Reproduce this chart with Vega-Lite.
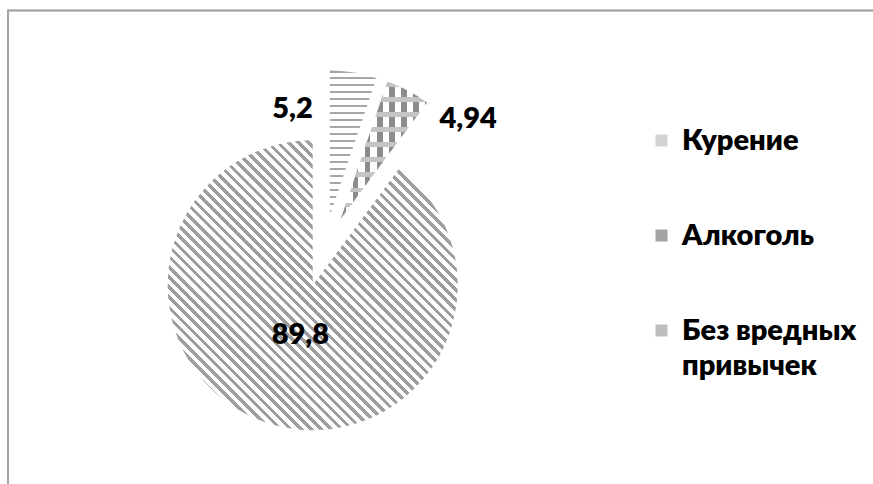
{
  "$schema": "https://vega.github.io/schema/vega-lite/v6.json",
  "width": 632,
  "height": 466,
  "autosize": {"type": "none"},
  "padding": {"left": 8, "top": 18, "right": 233, "bottom": 0},
  "background": "white",
  "config": {
    "view": {"stroke": null},
    "locale": {"number": {"decimal": ",", "thousands": " ", "grouping": [3], "currency": ["", ""]}}
  },
  "data": {
    "values": [
      {"category": "Курение", "value": 5.2, "order": 1},
      {"category": "Алкоголь", "value": 4.94, "order": 2},
      {"category": "Без вредных привычек", "value": 89.8, "order": 3}
    ]
  },
  "layer": [
    {
      "mark": {"type": "arc", "radius": 145, "opacity": 0},
      "encoding": {
        "theta": {"field": "value", "type": "quantitative", "stack": true},
        "order": {"field": "order", "type": "quantitative"},
        "color": {
          "field": "category",
          "type": "nominal",
          "scale": {
            "domain": ["Курение", "Алкоголь", "Без вредных привычек"],
            "range": ["#d2d2d2", "#a3a3a3", "#bdbdbd"]
          },
          "legend": {
            "orient": "none",
            "legendX": 639,
            "legendY": 108,
            "title": null,
            "padding": 0,
            "symbolType": "square",
            "symbolSize": 144,
            "symbolStrokeWidth": 0,
            "symbolOpacity": 1,
            "labelFont": "Lato",
            "labelFontSize": 29,
            "labelFontWeight": 800,
            "labelColor": "#000",
            "labelOffset": 6,
            "labelLimit": 300,
            "rowPadding": 65,
            "labelExpr": "datum.label === 'Без вредных привычек' ? ['Без вредных', 'привычек'] : datum.label",
            "encode": {"labels": {"update": {"lineHeight": {"value": 35}}}}
          }
        }
      }
    },
    {
      "mark": {
        "type": "arc", "radius": 145, "xOffset": -11.3, "yOffset": 34.2,
        "fill": {"gradient": "linear", "x1": 0, "y1": 1, "x2": 1, "y2": 0, "stops": [
          {"offset": 0, "color": "#9e9e9e"}, {"offset": 0.008, "color": "#9e9e9e"}, {"offset": 0.008, "color": "#fff"}, {"offset": 0.0175, "color": "#fff"},
          {"offset": 0.0175, "color": "#9e9e9e"}, {"offset": 0.0255, "color": "#9e9e9e"}, {"offset": 0.0255, "color": "#fff"}, {"offset": 0.035, "color": "#fff"},
          {"offset": 0.035, "color": "#9e9e9e"}, {"offset": 0.043, "color": "#9e9e9e"}, {"offset": 0.043, "color": "#fff"}, {"offset": 0.0525, "color": "#fff"},
          {"offset": 0.0525, "color": "#9e9e9e"}, {"offset": 0.0605, "color": "#9e9e9e"}, {"offset": 0.0605, "color": "#fff"}, {"offset": 0.07, "color": "#fff"},
          {"offset": 0.07, "color": "#9e9e9e"}, {"offset": 0.078, "color": "#9e9e9e"}, {"offset": 0.078, "color": "#fff"}, {"offset": 0.0875, "color": "#fff"},
          {"offset": 0.0875, "color": "#9e9e9e"}, {"offset": 0.0955, "color": "#9e9e9e"}, {"offset": 0.0955, "color": "#fff"}, {"offset": 0.105, "color": "#fff"},
          {"offset": 0.105, "color": "#9e9e9e"}, {"offset": 0.113, "color": "#9e9e9e"}, {"offset": 0.113, "color": "#fff"}, {"offset": 0.1225, "color": "#fff"},
          {"offset": 0.1225, "color": "#9e9e9e"}, {"offset": 0.1305, "color": "#9e9e9e"}, {"offset": 0.1305, "color": "#fff"}, {"offset": 0.14, "color": "#fff"},
          {"offset": 0.14, "color": "#9e9e9e"}, {"offset": 0.148, "color": "#9e9e9e"}, {"offset": 0.148, "color": "#fff"}, {"offset": 0.1575, "color": "#fff"},
          {"offset": 0.1575, "color": "#9e9e9e"}, {"offset": 0.1655, "color": "#9e9e9e"}, {"offset": 0.1655, "color": "#fff"}, {"offset": 0.175, "color": "#fff"},
          {"offset": 0.175, "color": "#9e9e9e"}, {"offset": 0.183, "color": "#9e9e9e"}, {"offset": 0.183, "color": "#fff"}, {"offset": 0.1925, "color": "#fff"},
          {"offset": 0.1925, "color": "#9e9e9e"}, {"offset": 0.2005, "color": "#9e9e9e"}, {"offset": 0.2005, "color": "#fff"}, {"offset": 0.21, "color": "#fff"},
          {"offset": 0.21, "color": "#9e9e9e"}, {"offset": 0.218, "color": "#9e9e9e"}, {"offset": 0.218, "color": "#fff"}, {"offset": 0.2275, "color": "#fff"},
          {"offset": 0.2275, "color": "#9e9e9e"}, {"offset": 0.2355, "color": "#9e9e9e"}, {"offset": 0.2355, "color": "#fff"}, {"offset": 0.245, "color": "#fff"},
          {"offset": 0.245, "color": "#9e9e9e"}, {"offset": 0.253, "color": "#9e9e9e"}, {"offset": 0.253, "color": "#fff"}, {"offset": 0.2625, "color": "#fff"},
          {"offset": 0.2625, "color": "#9e9e9e"}, {"offset": 0.2705, "color": "#9e9e9e"}, {"offset": 0.2705, "color": "#fff"}, {"offset": 0.28, "color": "#fff"},
          {"offset": 0.28, "color": "#9e9e9e"}, {"offset": 0.288, "color": "#9e9e9e"}, {"offset": 0.288, "color": "#fff"}, {"offset": 0.2975, "color": "#fff"},
          {"offset": 0.2975, "color": "#9e9e9e"}, {"offset": 0.3055, "color": "#9e9e9e"}, {"offset": 0.3055, "color": "#fff"}, {"offset": 0.315, "color": "#fff"},
          {"offset": 0.315, "color": "#9e9e9e"}, {"offset": 0.323, "color": "#9e9e9e"}, {"offset": 0.323, "color": "#fff"}, {"offset": 0.3325, "color": "#fff"},
          {"offset": 0.3325, "color": "#9e9e9e"}, {"offset": 0.3405, "color": "#9e9e9e"}, {"offset": 0.3405, "color": "#fff"}, {"offset": 0.35, "color": "#fff"},
          {"offset": 0.35, "color": "#9e9e9e"}, {"offset": 0.358, "color": "#9e9e9e"}, {"offset": 0.358, "color": "#fff"}, {"offset": 0.3675, "color": "#fff"},
          {"offset": 0.3675, "color": "#9e9e9e"}, {"offset": 0.3755, "color": "#9e9e9e"}, {"offset": 0.3755, "color": "#fff"}, {"offset": 0.385, "color": "#fff"},
          {"offset": 0.385, "color": "#9e9e9e"}, {"offset": 0.393, "color": "#9e9e9e"}, {"offset": 0.393, "color": "#fff"}, {"offset": 0.4025, "color": "#fff"},
          {"offset": 0.4025, "color": "#9e9e9e"}, {"offset": 0.4105, "color": "#9e9e9e"}, {"offset": 0.4105, "color": "#fff"}, {"offset": 0.42, "color": "#fff"},
          {"offset": 0.42, "color": "#9e9e9e"}, {"offset": 0.428, "color": "#9e9e9e"}, {"offset": 0.428, "color": "#fff"}, {"offset": 0.4375, "color": "#fff"},
          {"offset": 0.4375, "color": "#9e9e9e"}, {"offset": 0.4455, "color": "#9e9e9e"}, {"offset": 0.4455, "color": "#fff"}, {"offset": 0.455, "color": "#fff"},
          {"offset": 0.455, "color": "#9e9e9e"}, {"offset": 0.463, "color": "#9e9e9e"}, {"offset": 0.463, "color": "#fff"}, {"offset": 0.4725, "color": "#fff"},
          {"offset": 0.4725, "color": "#9e9e9e"}, {"offset": 0.4805, "color": "#9e9e9e"}, {"offset": 0.4805, "color": "#fff"}, {"offset": 0.49, "color": "#fff"},
          {"offset": 0.49, "color": "#9e9e9e"}, {"offset": 0.498, "color": "#9e9e9e"}, {"offset": 0.498, "color": "#fff"}, {"offset": 0.5075, "color": "#fff"},
          {"offset": 0.5075, "color": "#9e9e9e"}, {"offset": 0.5155, "color": "#9e9e9e"}, {"offset": 0.5155, "color": "#fff"}, {"offset": 0.525, "color": "#fff"},
          {"offset": 0.525, "color": "#9e9e9e"}, {"offset": 0.533, "color": "#9e9e9e"}, {"offset": 0.533, "color": "#fff"}, {"offset": 0.5425, "color": "#fff"},
          {"offset": 0.5425, "color": "#9e9e9e"}, {"offset": 0.5505, "color": "#9e9e9e"}, {"offset": 0.5505, "color": "#fff"}, {"offset": 0.56, "color": "#fff"},
          {"offset": 0.56, "color": "#9e9e9e"}, {"offset": 0.568, "color": "#9e9e9e"}, {"offset": 0.568, "color": "#fff"}, {"offset": 0.5775, "color": "#fff"},
          {"offset": 0.5775, "color": "#9e9e9e"}, {"offset": 0.5855, "color": "#9e9e9e"}, {"offset": 0.5855, "color": "#fff"}, {"offset": 0.595, "color": "#fff"},
          {"offset": 0.595, "color": "#9e9e9e"}, {"offset": 0.603, "color": "#9e9e9e"}, {"offset": 0.603, "color": "#fff"}, {"offset": 0.6125, "color": "#fff"},
          {"offset": 0.6125, "color": "#9e9e9e"}, {"offset": 0.6205, "color": "#9e9e9e"}, {"offset": 0.6205, "color": "#fff"}, {"offset": 0.63, "color": "#fff"},
          {"offset": 0.63, "color": "#9e9e9e"}, {"offset": 0.638, "color": "#9e9e9e"}, {"offset": 0.638, "color": "#fff"}, {"offset": 0.6475, "color": "#fff"},
          {"offset": 0.6475, "color": "#9e9e9e"}, {"offset": 0.6555, "color": "#9e9e9e"}, {"offset": 0.6555, "color": "#fff"}, {"offset": 0.665, "color": "#fff"},
          {"offset": 0.665, "color": "#9e9e9e"}, {"offset": 0.673, "color": "#9e9e9e"}, {"offset": 0.673, "color": "#fff"}, {"offset": 0.6825, "color": "#fff"},
          {"offset": 0.6825, "color": "#9e9e9e"}, {"offset": 0.6905, "color": "#9e9e9e"}, {"offset": 0.6905, "color": "#fff"}, {"offset": 0.7, "color": "#fff"},
          {"offset": 0.7, "color": "#9e9e9e"}, {"offset": 0.708, "color": "#9e9e9e"}, {"offset": 0.708, "color": "#fff"}, {"offset": 0.7175, "color": "#fff"},
          {"offset": 0.7175, "color": "#9e9e9e"}, {"offset": 0.7255, "color": "#9e9e9e"}, {"offset": 0.7255, "color": "#fff"}, {"offset": 0.735, "color": "#fff"},
          {"offset": 0.735, "color": "#9e9e9e"}, {"offset": 0.743, "color": "#9e9e9e"}, {"offset": 0.743, "color": "#fff"}, {"offset": 0.7525, "color": "#fff"},
          {"offset": 0.7525, "color": "#9e9e9e"}, {"offset": 0.7605, "color": "#9e9e9e"}, {"offset": 0.7605, "color": "#fff"}, {"offset": 0.77, "color": "#fff"},
          {"offset": 0.77, "color": "#9e9e9e"}, {"offset": 0.778, "color": "#9e9e9e"}, {"offset": 0.778, "color": "#fff"}, {"offset": 0.7875, "color": "#fff"},
          {"offset": 0.7875, "color": "#9e9e9e"}, {"offset": 0.7955, "color": "#9e9e9e"}, {"offset": 0.7955, "color": "#fff"}, {"offset": 0.805, "color": "#fff"},
          {"offset": 0.805, "color": "#9e9e9e"}, {"offset": 0.813, "color": "#9e9e9e"}, {"offset": 0.813, "color": "#fff"}, {"offset": 0.8225, "color": "#fff"},
          {"offset": 0.8225, "color": "#9e9e9e"}, {"offset": 0.8305, "color": "#9e9e9e"}, {"offset": 0.8305, "color": "#fff"}, {"offset": 0.84, "color": "#fff"},
          {"offset": 0.84, "color": "#9e9e9e"}, {"offset": 0.848, "color": "#9e9e9e"}, {"offset": 0.848, "color": "#fff"}, {"offset": 0.8575, "color": "#fff"},
          {"offset": 0.8575, "color": "#9e9e9e"}, {"offset": 0.8655, "color": "#9e9e9e"}, {"offset": 0.8655, "color": "#fff"}, {"offset": 0.875, "color": "#fff"},
          {"offset": 0.875, "color": "#9e9e9e"}, {"offset": 0.883, "color": "#9e9e9e"}, {"offset": 0.883, "color": "#fff"}, {"offset": 0.8925, "color": "#fff"},
          {"offset": 0.8925, "color": "#9e9e9e"}, {"offset": 0.9005, "color": "#9e9e9e"}, {"offset": 0.9005, "color": "#fff"}, {"offset": 0.91, "color": "#fff"},
          {"offset": 0.91, "color": "#9e9e9e"}, {"offset": 0.918, "color": "#9e9e9e"}, {"offset": 0.918, "color": "#fff"}, {"offset": 0.9275, "color": "#fff"},
          {"offset": 0.9275, "color": "#9e9e9e"}, {"offset": 0.9355, "color": "#9e9e9e"}, {"offset": 0.9355, "color": "#fff"}, {"offset": 0.945, "color": "#fff"},
          {"offset": 0.945, "color": "#9e9e9e"}, {"offset": 0.953, "color": "#9e9e9e"}, {"offset": 0.953, "color": "#fff"}, {"offset": 0.9625, "color": "#fff"},
          {"offset": 0.9625, "color": "#9e9e9e"}, {"offset": 0.9705, "color": "#9e9e9e"}, {"offset": 0.9705, "color": "#fff"}, {"offset": 0.98, "color": "#fff"},
          {"offset": 0.98, "color": "#9e9e9e"}, {"offset": 0.988, "color": "#9e9e9e"}, {"offset": 0.988, "color": "#fff"}, {"offset": 0.9975, "color": "#fff"},
          {"offset": 0.9975, "color": "#9e9e9e"}, {"offset": 1, "color": "#9e9e9e"}
        ]}
      },
      "encoding": {
        "theta": {"field": "value", "type": "quantitative", "stack": true},
        "order": {"field": "order", "type": "quantitative"},
        "detail": {"field": "category", "type": "nominal"},
        "fillOpacity": {"condition": {"test": "datum.category === 'Без вредных привычек'", "value": 1}, "value": 0}
      }
    },
    {
      "mark": {
        "type": "arc", "radius": 145, "xOffset": 5.9, "yOffset": -35.5,
        "fill": {"gradient": "linear", "x1": 0, "y1": 0, "x2": 0, "y2": 1, "stops": [
          {"offset": 0, "color": "#a6a6a6"}, {"offset": 0.014, "color": "#a6a6a6"}, {"offset": 0.014, "color": "#fff"}, {"offset": 0.048, "color": "#fff"},
          {"offset": 0.048, "color": "#a6a6a6"}, {"offset": 0.062, "color": "#a6a6a6"}, {"offset": 0.062, "color": "#fff"}, {"offset": 0.096, "color": "#fff"},
          {"offset": 0.096, "color": "#a6a6a6"}, {"offset": 0.11, "color": "#a6a6a6"}, {"offset": 0.11, "color": "#fff"}, {"offset": 0.144, "color": "#fff"},
          {"offset": 0.144, "color": "#a6a6a6"}, {"offset": 0.158, "color": "#a6a6a6"}, {"offset": 0.158, "color": "#fff"}, {"offset": 0.192, "color": "#fff"},
          {"offset": 0.192, "color": "#a6a6a6"}, {"offset": 0.206, "color": "#a6a6a6"}, {"offset": 0.206, "color": "#fff"}, {"offset": 0.24, "color": "#fff"},
          {"offset": 0.24, "color": "#a6a6a6"}, {"offset": 0.254, "color": "#a6a6a6"}, {"offset": 0.254, "color": "#fff"}, {"offset": 0.288, "color": "#fff"},
          {"offset": 0.288, "color": "#a6a6a6"}, {"offset": 0.302, "color": "#a6a6a6"}, {"offset": 0.302, "color": "#fff"}, {"offset": 0.336, "color": "#fff"},
          {"offset": 0.336, "color": "#a6a6a6"}, {"offset": 0.35, "color": "#a6a6a6"}, {"offset": 0.35, "color": "#fff"}, {"offset": 0.384, "color": "#fff"},
          {"offset": 0.384, "color": "#a6a6a6"}, {"offset": 0.398, "color": "#a6a6a6"}, {"offset": 0.398, "color": "#fff"}, {"offset": 0.432, "color": "#fff"},
          {"offset": 0.432, "color": "#a6a6a6"}, {"offset": 0.446, "color": "#a6a6a6"}, {"offset": 0.446, "color": "#fff"}, {"offset": 0.48, "color": "#fff"},
          {"offset": 0.48, "color": "#a6a6a6"}, {"offset": 0.494, "color": "#a6a6a6"}, {"offset": 0.494, "color": "#fff"}, {"offset": 0.528, "color": "#fff"},
          {"offset": 0.528, "color": "#a6a6a6"}, {"offset": 0.542, "color": "#a6a6a6"}, {"offset": 0.542, "color": "#fff"}, {"offset": 0.576, "color": "#fff"},
          {"offset": 0.576, "color": "#a6a6a6"}, {"offset": 0.59, "color": "#a6a6a6"}, {"offset": 0.59, "color": "#fff"}, {"offset": 0.624, "color": "#fff"},
          {"offset": 0.624, "color": "#a6a6a6"}, {"offset": 0.638, "color": "#a6a6a6"}, {"offset": 0.638, "color": "#fff"}, {"offset": 0.672, "color": "#fff"},
          {"offset": 0.672, "color": "#a6a6a6"}, {"offset": 0.686, "color": "#a6a6a6"}, {"offset": 0.686, "color": "#fff"}, {"offset": 0.72, "color": "#fff"},
          {"offset": 0.72, "color": "#a6a6a6"}, {"offset": 0.734, "color": "#a6a6a6"}, {"offset": 0.734, "color": "#fff"}, {"offset": 0.768, "color": "#fff"},
          {"offset": 0.768, "color": "#a6a6a6"}, {"offset": 0.782, "color": "#a6a6a6"}, {"offset": 0.782, "color": "#fff"}, {"offset": 0.816, "color": "#fff"},
          {"offset": 0.816, "color": "#a6a6a6"}, {"offset": 0.83, "color": "#a6a6a6"}, {"offset": 0.83, "color": "#fff"}, {"offset": 0.864, "color": "#fff"},
          {"offset": 0.864, "color": "#a6a6a6"}, {"offset": 0.878, "color": "#a6a6a6"}, {"offset": 0.878, "color": "#fff"}, {"offset": 0.912, "color": "#fff"},
          {"offset": 0.912, "color": "#a6a6a6"}, {"offset": 0.926, "color": "#a6a6a6"}, {"offset": 0.926, "color": "#fff"}, {"offset": 0.96, "color": "#fff"},
          {"offset": 0.96, "color": "#a6a6a6"}, {"offset": 0.974, "color": "#a6a6a6"}, {"offset": 0.974, "color": "#fff"}, {"offset": 1, "color": "#fff"}
        ]}
      },
      "encoding": {
        "theta": {"field": "value", "type": "quantitative", "stack": true},
        "order": {"field": "order", "type": "quantitative"},
        "detail": {"field": "category", "type": "nominal"},
        "fillOpacity": {"condition": {"test": "datum.category === 'Курение'", "value": 1}, "value": 0}
      }
    },
    {
      "mark": {
        "type": "arc", "radius": 145, "xOffset": 16.7, "yOffset": -31.9,
        "fill": {"gradient": "linear", "x1": 0, "y1": 0, "x2": 1, "y2": 0, "stops": [
          {"offset": 0, "color": "#8c8c8c"}, {"offset": 0.065, "color": "#8c8c8c"}, {"offset": 0.065, "color": "#fff"}, {"offset": 0.14, "color": "#fff"},
          {"offset": 0.14, "color": "#8c8c8c"}, {"offset": 0.205, "color": "#8c8c8c"}, {"offset": 0.205, "color": "#fff"}, {"offset": 0.28, "color": "#fff"},
          {"offset": 0.28, "color": "#8c8c8c"}, {"offset": 0.345, "color": "#8c8c8c"}, {"offset": 0.345, "color": "#fff"}, {"offset": 0.42, "color": "#fff"},
          {"offset": 0.42, "color": "#8c8c8c"}, {"offset": 0.485, "color": "#8c8c8c"}, {"offset": 0.485, "color": "#fff"}, {"offset": 0.56, "color": "#fff"},
          {"offset": 0.56, "color": "#8c8c8c"}, {"offset": 0.625, "color": "#8c8c8c"}, {"offset": 0.625, "color": "#fff"}, {"offset": 0.7, "color": "#fff"},
          {"offset": 0.7, "color": "#8c8c8c"}, {"offset": 0.765, "color": "#8c8c8c"}, {"offset": 0.765, "color": "#fff"}, {"offset": 0.84, "color": "#fff"},
          {"offset": 0.84, "color": "#8c8c8c"}, {"offset": 0.905, "color": "#8c8c8c"}, {"offset": 0.905, "color": "#fff"}, {"offset": 0.98, "color": "#fff"},
          {"offset": 0.98, "color": "#8c8c8c"}, {"offset": 1, "color": "#8c8c8c"}
        ]}
      },
      "encoding": {
        "theta": {"field": "value", "type": "quantitative", "stack": true},
        "order": {"field": "order", "type": "quantitative"},
        "detail": {"field": "category", "type": "nominal"},
        "fillOpacity": {"condition": {"test": "datum.category === 'Алкоголь'", "value": 1}, "value": 0}
      }
    },
    {
      "mark": {
        "type": "arc", "radius": 145, "xOffset": 16.7, "yOffset": -31.9,
        "fill": {"gradient": "linear", "x1": 0, "y1": 0, "x2": 0, "y2": 1, "stops": [
          {"offset": 0, "color": "#c4c4c4"}, {"offset": 0.035, "color": "#c4c4c4"}, {"offset": 0.035, "color": "rgba(255,255,255,0)"}, {"offset": 0.11, "color": "rgba(255,255,255,0)"},
          {"offset": 0.11, "color": "#c4c4c4"}, {"offset": 0.145, "color": "#c4c4c4"}, {"offset": 0.145, "color": "rgba(255,255,255,0)"}, {"offset": 0.22, "color": "rgba(255,255,255,0)"},
          {"offset": 0.22, "color": "#c4c4c4"}, {"offset": 0.255, "color": "#c4c4c4"}, {"offset": 0.255, "color": "rgba(255,255,255,0)"}, {"offset": 0.33, "color": "rgba(255,255,255,0)"},
          {"offset": 0.33, "color": "#c4c4c4"}, {"offset": 0.365, "color": "#c4c4c4"}, {"offset": 0.365, "color": "rgba(255,255,255,0)"}, {"offset": 0.44, "color": "rgba(255,255,255,0)"},
          {"offset": 0.44, "color": "#c4c4c4"}, {"offset": 0.475, "color": "#c4c4c4"}, {"offset": 0.475, "color": "rgba(255,255,255,0)"}, {"offset": 0.55, "color": "rgba(255,255,255,0)"},
          {"offset": 0.55, "color": "#c4c4c4"}, {"offset": 0.585, "color": "#c4c4c4"}, {"offset": 0.585, "color": "rgba(255,255,255,0)"}, {"offset": 0.66, "color": "rgba(255,255,255,0)"},
          {"offset": 0.66, "color": "#c4c4c4"}, {"offset": 0.695, "color": "#c4c4c4"}, {"offset": 0.695, "color": "rgba(255,255,255,0)"}, {"offset": 0.77, "color": "rgba(255,255,255,0)"},
          {"offset": 0.77, "color": "#c4c4c4"}, {"offset": 0.805, "color": "#c4c4c4"}, {"offset": 0.805, "color": "rgba(255,255,255,0)"}, {"offset": 0.88, "color": "rgba(255,255,255,0)"},
          {"offset": 0.88, "color": "#c4c4c4"}, {"offset": 0.915, "color": "#c4c4c4"}, {"offset": 0.915, "color": "rgba(255,255,255,0)"}, {"offset": 0.99, "color": "rgba(255,255,255,0)"},
          {"offset": 0.99, "color": "#c4c4c4"}, {"offset": 1, "color": "#c4c4c4"}
        ]}
      },
      "encoding": {
        "theta": {"field": "value", "type": "quantitative", "stack": true},
        "order": {"field": "order", "type": "quantitative"},
        "detail": {"field": "category", "type": "nominal"},
        "fillOpacity": {"condition": {"test": "datum.category === 'Алкоголь'", "value": 1}, "value": 0}
      }
    },
    {
      "mark": {"type": "text", "radius": 108, "xOffset": 5.9, "yOffset": -35.5, "dx": -55, "font": "Lato", "fontSize": 29, "fontWeight": 800, "color": "#000"},
      "encoding": {
        "theta": {"field": "value", "type": "quantitative", "stack": true},
        "order": {"field": "order", "type": "quantitative"},
        "detail": {"field": "category", "type": "nominal"},
        "text": {"condition": {"test": "datum.category === 'Курение'", "field": "value", "type": "quantitative", "format": "~g"}, "value": ""}
      }
    },
    {
      "mark": {"type": "text", "radius": 113, "xOffset": 16.7, "yOffset": -31.9, "dx": 75, "font": "Lato", "fontSize": 29, "fontWeight": 800, "color": "#000"},
      "encoding": {
        "theta": {"field": "value", "type": "quantitative", "stack": true},
        "order": {"field": "order", "type": "quantitative"},
        "detail": {"field": "category", "type": "nominal"},
        "text": {"condition": {"test": "datum.category === 'Алкоголь'", "field": "value", "type": "quantitative", "format": "~g"}, "value": ""}
      }
    },
    {
      "mark": {"type": "text", "radius": 52, "xOffset": -11.3, "yOffset": 34.2, "dx": 4, "font": "Lato", "fontSize": 29, "fontWeight": 800, "color": "#000"},
      "encoding": {
        "theta": {"field": "value", "type": "quantitative", "stack": true},
        "order": {"field": "order", "type": "quantitative"},
        "detail": {"field": "category", "type": "nominal"},
        "text": {"condition": {"test": "datum.category === 'Без вредных привычек'", "field": "value", "type": "quantitative", "format": "~g"}, "value": ""}
      }
    },
    {
      "mark": {"type": "rule", "color": "#a0a0a0", "strokeWidth": 1.3},
      "encoding": {"x": {"value": 0}, "y": {"value": -7.5}, "y2": {"value": "height"}}
    },
    {
      "mark": {"type": "rule", "color": "#a0a0a0", "strokeWidth": 1.3},
      "encoding": {"x": {"value": -0.6}, "x2": {"value": 880}, "y": {"value": -7.5}}
    }
  ]
}
